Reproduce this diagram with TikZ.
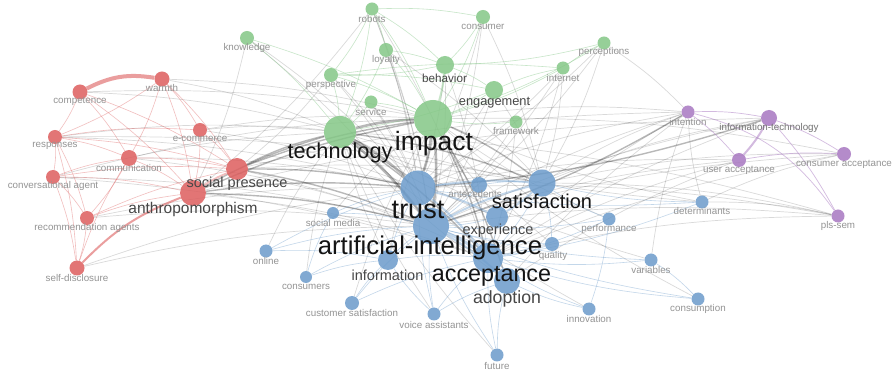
\documentclass[tikz,border=0pt]{standalone}
\usepackage{fontspec}
\setmainfont{Liberation Sans}
\usepackage{tikz}
\usetikzlibrary{positioning,backgrounds}

\definecolor{kred}{HTML}{DD5E5E}
\definecolor{kgreen}{HTML}{84C786}
\definecolor{kblue}{HTML}{6B9BCB}
\definecolor{kpurple}{HTML}{A877C1}

\tikzset{
  kw/.style={circle, inner sep=0pt, minimum size=#1, fill opacity=0.85},
  rkw/.style={kw=#1, fill=kred},
  gkw/.style={kw=#1, fill=kgreen},
  bkw/.style={kw=#1, fill=kblue},
  pkw/.style={kw=#1, fill=kpurple},
  lbl/.style={inner sep=0pt, font=\fontsize{#1}{#1}\selectfont},
  tsm/.style={lbl=9.8, text=black!42},
  tmd/.style={lbl=#1, text=black!72},
  tlg/.style={lbl=#1, text=black!92},
  link/.style={bend left=6, line width=#1},
  xl/.style={link=#1, draw=black, draw opacity=0.15},
  xh/.style={link=#1, draw=black, draw opacity=0.28},
  rl/.style={link=#1, draw=kred, draw opacity=0.4},
  gl/.style={link=#1, draw=kgreen, draw opacity=0.45},
  bl/.style={link=#1, draw=kblue, draw opacity=0.4},
  pl/.style={link=#1, draw=kpurple, draw opacity=0.5},
}

\begin{document}
\begin{tikzpicture}[x=1pt,y=-1pt]

  % cluster 1 (red)
  \node[rkw=15] (comp) at (80,92) {};
  \node[rkw=15] (warm) at (162,79) {};
  \node[rkw=14] (resp) at (55,137) {};
  \node[rkw=14] (ecom) at (200,130) {};
  \node[rkw=16] (comm) at (129,158) {};
  \node[rkw=14] (conv) at (53,177) {};
  \node[rkw=22] (socp) at (237,169) {};
  \node[rkw=26] (anth) at (193,193) {};
  \node[rkw=14] (reco) at (87,218) {};
  \node[rkw=15] (self) at (77,268) {};

  % cluster 2 (green)
  \node[gkw=13] (robo) at (372,9) {};
  \node[gkw=14] (cons) at (483,17) {};
  \node[gkw=14] (know) at (247,38) {};
  \node[gkw=14] (loya) at (386,50) {};
  \node[gkw=13] (perc) at (604,43) {};
  \node[gkw=18] (beha) at (445,65) {};
  \node[gkw=13] (inte) at (563,68) {};
  \node[gkw=14] (pers) at (331,75) {};
  \node[gkw=18] (enga) at (494,90) {};
  \node[gkw=13] (serv) at (371,102) {};
  \node[gkw=13] (fram) at (516,122) {};
  \node[gkw=38] (impa) at (433,119) {};
  \node[gkw=32] (tech) at (340,132) {};

  % cluster 3 (purple)
  \node[pkw=13] (intn) at (688,112) {};
  \node[pkw=16] (info) at (769,118) {};
  \node[pkw=14] (usac) at (739,160) {};
  \node[pkw=14] (coac) at (844,154) {};
  \node[pkw=13] (plss) at (838,216) {};

  % cluster 4 (blue)
  \node[bkw=35] (trus) at (418,188) {};
  \node[bkw=16] (ante) at (479,185) {};
  \node[bkw=27] (sati) at (542,183) {};
  \node[bkw=12] (socm) at (333,213) {};
  \node[bkw=22] (expe) at (497,217) {};
  \node[bkw=36] (arti) at (431,226) {};
  \node[bkw=13] (onli) at (266,251) {};
  \node[bkw=14] (qual) at (552,244) {};
  \node[bkw=20] (infm) at (388,260) {};
  \node[bkw=30] (acce) at (488,258) {};
  \node[bkw=26] (adop) at (507,281) {};
  \node[bkw=12] (csmr) at (306,277) {};
  \node[bkw=14] (cust) at (352,303) {};
  \node[bkw=13] (voic) at (434,314) {};
  \node[bkw=13] (futu) at (497,355) {};
  \node[bkw=13] (perf) at (609,219) {};
  \node[bkw=13] (dete) at (702,202) {};
  \node[bkw=13] (vari) at (651,260) {};
  \node[bkw=13] (cosu) at (698,299) {};
  \node[bkw=13] (inno) at (589,309) {};

  \begin{pgfonlayer}{background}
    \fill[white] (0,0) rectangle (892,371);

    % links between clusters
    \path[xh=2.6] (tech) edge (impa) (impa) edge (arti) (impa) edge (trus)
      (tech) edge (arti) (tech) edge (trus);
    \path[xh=1.4] (impa) edge (acce) (impa) edge (sati) (tech) edge (acce)
      (socp) edge (impa) (socp) edge (tech) (socp) edge (trus) (anth) edge (arti)
      (anth) edge (trus) (impa) edge (adop) (tech) edge (sati) (anth) edge (impa)
      (anth) edge (tech) (socp) edge (arti) (intn) edge (arti) (info) edge (trus);
    \path[xl=0.7] (know) edge (trus) (know) edge (arti) (know) edge (anth)
      (robo) edge (trus) (robo) edge (arti) (robo) edge (acce) (robo) edge (anth)
      (cons) edge (arti) (cons) edge (trus) (cons) edge (sati) (loya) edge (trus)
      (loya) edge (sati) (loya) edge (arti) (perc) edge (sati) (perc) edge (arti)
      (perc) edge (intn) (perc) edge (trus) (beha) edge (trus) (beha) edge (arti)
      (beha) edge (acce) (inte) edge (arti) (inte) edge (trus) (inte) edge (sati)
      (inte) edge (acce) (pers) edge (arti) (pers) edge (trus) (pers) edge (socp)
      (enga) edge (trus) (enga) edge (arti) (enga) edge (sati) (serv) edge (trus)
      (serv) edge (arti) (fram) edge (arti) (fram) edge (acce);
    \path[xl=0.7] (comp) edge (impa) (comp) edge (tech) (warm) edge (tech)
      (warm) edge (impa) (resp) edge (tech) (resp) edge (trus) (ecom) edge (tech)
      (ecom) edge (trus) (ecom) edge (impa) (comm) edge (impa) (comm) edge (trus)
      (comm) edge (arti) (conv) edge (arti) (conv) edge (tech) (reco) edge (arti)
      (reco) edge (trus) (self) edge (arti) (self) edge (trus) (anth) edge (acce)
      (socp) edge (sati) (socp) edge (acce) (resp) edge (sati) (conv) edge (acce)
      (socp) edge (intn) (anth) edge (info);
    \path[xl=0.7] (arti) edge (intn) (trus) edge (intn) (acce) edge (intn)
      (sati) edge (intn) (adop) edge (intn) (arti) edge (info) (acce) edge (info)
      (sati) edge (info) (arti) edge (usac) (acce) edge (usac) (adop) edge (usac)
      (trus) edge (usac) (arti) edge (coac) (acce) edge (coac) (sati) edge (coac)
      (arti) edge (plss) (acce) edge (plss) (sati) edge (plss) (trus) edge (plss)
      (dete) edge (impa) (dete) edge (tech) (perf) edge (impa) (vari) edge (tech)
      (cosu) edge (impa) (inno) edge (tech) (qual) edge (impa) (expe) edge (impa)
      (expe) edge (tech) (adop) edge (tech) (futu) edge (tech) (voic) edge (tech)
      (cust) edge (impa) (onli) edge (tech) (socm) edge (impa) (csmr) edge (tech)
      (infm) edge (impa) (infm) edge (tech) (ante) edge (impa) (ante) edge (tech)
      (dete) edge (intn) (vari) edge (intn) (dete) edge (plss) (dete) edge (coac)
      (impa) edge (coac) (tech) edge (plss) (impa) edge (intn);

    % links inside the red cluster
    \path[rl=4, bend left=18, draw opacity=0.6] (comp) edge (warm);
    \path[rl=2, bend left=12, draw opacity=0.6] (self) edge (anth);
    \path[rl=1.8] (anth) edge (socp);
    \path[rl=0.6] (comp) edge (resp) (comp) edge (comm) (comp) edge (anth)
      (comp) edge (socp) (warm) edge (ecom) (warm) edge (socp) (warm) edge (comm)
      (warm) edge (anth) (warm) edge (resp) (resp) edge (conv) (resp) edge (socp)
      (resp) edge (comm) (resp) edge (self) (resp) edge (reco) (resp) edge (ecom)
      (conv) edge (socp) (conv) edge (self) (conv) edge (reco) (conv) edge (anth)
      (conv) edge (comm) (comm) edge (socp) (comm) edge (anth) (comm) edge (reco)
      (ecom) edge (socp) (ecom) edge (anth) (reco) edge (self) (reco) edge (anth)
      (reco) edge (socp) (self) edge (comm);

    % links inside the green cluster
    \path[gl=2] (beha) edge (impa);
    \path[gl=0.6] (robo) edge (tech) (robo) edge (impa) (robo) edge (loya)
      (robo) edge (cons) (robo) edge (pers) (robo) edge (beha) (know) edge (tech)
      (know) edge (impa) (loya) edge (impa) (loya) edge (tech) (pers) edge (tech)
      (pers) edge (impa) (pers) edge (enga) (pers) edge (inte) (beha) edge (enga)
      (beha) edge (pers) (serv) edge (impa) (serv) edge (tech) (enga) edge (impa)
      (enga) edge (inte) (inte) edge (impa) (inte) edge (perc) (perc) edge (impa)
      (perc) edge (beha) (fram) edge (impa) (cons) edge (beha) (cons) edge (impa)
      (loya) edge (beha) (enga) edge (tech);

    % links inside the purple cluster
    \path[pl=2] (info) edge (usac);
    \path[pl=0.7] (intn) edge (info) (info) edge (coac) (info) edge (plss)
      (usac) edge (coac) (intn) edge (usac);
    \path[pl=0.7, bend left=20] (intn) edge (plss);

    % links inside the blue cluster
    \path[bl=3] (trus) edge (arti) (arti) edge (acce);
    \path[bl=2] (trus) edge (sati) (arti) edge (adop) (acce) edge (adop)
      (arti) edge (sati) (trus) edge (acce) (sati) edge (expe) (trus) edge (expe);
    \path[bl=0.6] (trus) edge (ante) (ante) edge (sati) (ante) edge (arti)
      (sati) edge (qual) (sati) edge (acce) (expe) edge (arti) (expe) edge (acce)
      (qual) edge (arti) (qual) edge (acce) (onli) edge (arti) (onli) edge (infm)
      (onli) edge (trus) (csmr) edge (infm) (csmr) edge (arti) (csmr) edge (socm)
      (cust) edge (infm) (cust) edge (arti) (cust) edge (acce) (voic) edge (arti)
      (voic) edge (acce) (voic) edge (trus) (voic) edge (infm) (voic) edge (adop)
      (futu) edge (adop) (futu) edge (acce) (futu) edge (arti) (perf) edge (acce)
      (perf) edge (sati) (perf) edge (inno) (perf) edge (arti) (dete) edge (sati)
      (dete) edge (trus) (dete) edge (acce) (vari) edge (acce) (vari) edge (cosu)
      (vari) edge (arti) (cosu) edge (acce) (cosu) edge (arti) (inno) edge (adop)
      (inno) edge (acce) (socm) edge (arti) (socm) edge (trus) (infm) edge (arti)
      (infm) edge (trus) (infm) edge (acce);
  \end{pgfonlayer}

  % labels
  \node[tsm] (comp-t) at (80,101) {competence};
  \node[tsm] (warm-t) at (162,88) {warmth};
  \node[tsm] (resp-t) at (55,146) {responses};
  \node[tsm] (ecom-t) at (200,139) {e-commerce};
  \node[tsm] (comm-t) at (129,168) {communication};
  \node[tsm] (conv-t) at (53,186) {conversational agent};
  \node[tmd=14.5] (socp-t) at (237,183.5) {social presence};
  \node[tmd=15.5] (anth-t) at (193,209.5) {anthropomorphism};
  \node[tsm] (reco-t) at (87,228) {recommendation agents};
  \node[tsm] (self-t) at (77,278) {self-disclosure};

  \node[tsm] (robo-t) at (372,19) {robots};
  \node[tsm] (cons-t) at (483,27) {consumer};
  \node[tsm] (know-t) at (247,48) {knowledge};
  \node[tsm] (loya-t) at (386,60) {loyalty};
  \node[tsm] (perc-t) at (604,52) {perceptions};
  \node[tmd=11.7] (beha-t) at (444.5,78) {behavior};
  \node[tsm] (inte-t) at (563,78) {internet};
  \node[tsm] (pers-t) at (331,85) {perspective};
  \node[tmd=12.8] (enga-t) at (494.5,102.5) {engagement};
  \node[tsm] (serv-t) at (371,112) {service};
  \node[tsm] (fram-t) at (516,131) {framework};
  \node[tlg=26.5] (impa-t) at (434,143.5) {impact};
  \node[tlg=21.7] (tech-t) at (340,153) {technology};

  \node[tsm] (intn-t) at (688,122) {intention};
  \node[tsm, text=black!55] (info-t) at (769,128) {information-technology};
  \node[tsm] (usac-t) at (739,170) {user acceptance};
  \node[tsm] (coac-t) at (844,164) {consumer acceptance};
  \node[tsm] (plss-t) at (838,226) {pls-sem};

  \node[tlg=27] (trus-t) at (418,210) {trust};
  \node[tsm] (ante-t) at (475,194) {antecedents};
  \node[tlg=20] (sati-t) at (542,201.5) {satisfaction};
  \node[tsm] (socm-t) at (333,223) {social media};
  \node[tmd=14.5] (expe-t) at (498,230.5) {experience};
  \node[tlg=25.7] (arti-t) at (430,247.5) {artificial-intelligence};
  \node[tsm] (onli-t) at (266,261) {online};
  \node[tsm] (qual-t) at (553,256) {quality};
  \node[tmd=14.5] (infm-t) at (387.5,275) {information};
  \node[tlg=23.3] (acce-t) at (491.5,276.5) {acceptance};
  \node[tmd=17.7] (adop-t) at (507,299) {adoption};
  \node[tsm] (csmr-t) at (306,287) {consumers};
  \node[tsm] (cust-t) at (352,313) {customer satisfaction};
  \node[tsm] (voic-t) at (434,325) {voice assistants};
  \node[tsm] (futu-t) at (497,366) {future};
  \node[tsm] (perf-t) at (609,229) {performance};
  \node[tsm] (dete-t) at (702,211) {determinants};
  \node[tsm] (vari-t) at (651,270) {variables};
  \node[tsm] (cosu-t) at (698,309) {consumption};
  \node[tsm] (inno-t) at (589,319) {innovation};

  \useasboundingbox (0,0) rectangle (892,371);

\end{tikzpicture}
\end{document}
